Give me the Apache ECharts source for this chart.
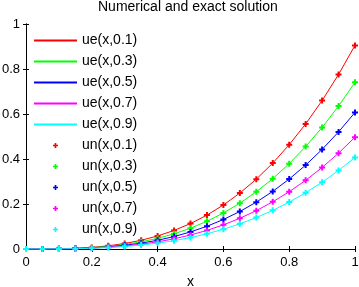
<!DOCTYPE html>
<html><head><meta charset="utf-8">
<script src="https://cdn.jsdelivr.net/npm/echarts@6/dist/echarts.min.js"></script>
<style>html,body{margin:0;padding:0;background:#fff}#c{width:359px;height:287px}</style>
</head><body><div id="c"></div>
<script>
var xs = [0,0.05,0.1,0.15,0.2,0.25,0.3,0.35,0.4,0.45,0.5,0.55,0.6,0.65,0.7,0.75,0.8,0.85,0.9,0.95,1];
var u01 = [0,0.0001,0.0009,0.0031,0.0072,0.0141,0.0244,0.0388,0.0579,0.0825,0.1131,0.1506,0.1955,0.2485,0.3104,0.3818,0.4634,0.5558,0.6597,0.7759,0.905];
var u03 = [0,0.0001,0.0007,0.0025,0.0059,0.0116,0.0200,0.0318,0.0474,0.0675,0.0926,0.1233,0.1601,0.2035,0.2542,0.3126,0.3794,0.4551,0.5402,0.6353,0.741];
var u05 = [0,0.0001,0.0006,0.0020,0.0049,0.0095,0.0164,0.0260,0.0388,0.0553,0.0759,0.1010,0.1311,0.1667,0.2082,0.2561,0.3108,0.3728,0.4425,0.5204,0.607];
var u07 = [0,0.0001,0.0005,0.0017,0.0040,0.0078,0.0134,0.0213,0.0318,0.0453,0.0621,0.0827,0.1074,0.1365,0.1705,0.2097,0.2545,0.3052,0.3623,0.4261,0.497];
var u09 = [0,0.0001,0.0004,0.0014,0.0033,0.0064,0.0110,0.0175,0.0260,0.0371,0.0509,0.0677,0.0879,0.1118,0.1396,0.1717,0.2084,0.2499,0.2967,0.3489,0.407];
var tValues = ['0.1','0.3','0.5','0.7','0.9'];
var colors = ['#ff0000','#00ff00','#0000ff','#ff00ff','#00ffff'];
var titleText = 'Numerical and exact solution';
var xName = 'x';

var all = [u01,u03,u05,u07,u09];
function pairs(ys){ return xs.map(function(x,i){ return [x, ys[i]]; }); }
var marker = 'path://M2,0H4V2H6V4H4V6H2V4H0V2H2Z';
var lineIcon = 'path://M0,0H86V4H0Z';
var series = [];
var legendData = [];
all.forEach(function(ys,k){
  series.push({name:'ue(x,'+tValues[k]+')', type:'line', data:pairs(ys), symbol:'none',
    lineStyle:{color:colors[k], width:1}, itemStyle:{color:colors[k]}, z:2});
  legendData.push({name:'ue(x,'+tValues[k]+')', icon:lineIcon});
});
all.forEach(function(ys,k){
  series.push({name:'un(x,'+tValues[k]+')', type:'line', data:pairs(ys), symbol:marker, symbolSize:6, showSymbol:true,
    lineStyle:{color:colors[k], width:0, opacity:0}, itemStyle:{color:colors[k]}, z:3});
  legendData.push({name:'un(x,'+tValues[k]+')', icon:marker});
});

var axisCommon = {min:0, max:1, interval:0.2, splitLine:{show:false},
  axisLine:{show:true, lineStyle:{color:'#000', width:1}},
  axisTick:{show:true, inside:true, length:3, lineStyle:{color:'#000'}}};
var chart = echarts.init(document.getElementById('c'), null, {renderer:'canvas'});
chart.setOption({
  animation:false,
  backgroundColor:'#fff',
  title:{text:titleText, left:98, top:0, padding:0,
    textStyle:{fontFamily:'Liberation Sans', fontSize:14, fontWeight:'normal', color:'#000'}},
  grid:{left:26, right:4, top:24, bottom:38, containLabel:false, outerBoundsMode:'none'},
  legend:{data:legendData, orient:'vertical', left:34, top:33.5, padding:0, itemGap:7,
    itemWidth:43, itemHeight:5,
    textStyle:{fontFamily:'Liberation Sans', fontSize:14, color:'#000'}},
  xAxis:[
    Object.assign({type:'value', position:'bottom', name:xName, nameLocation:'middle', nameGap:26,
      nameTextStyle:{fontFamily:'Liberation Sans', fontSize:14, color:'#000'},
      axisLabel:{fontFamily:'Liberation Sans', fontSize:13, color:'#000', margin:7}}, axisCommon),
    Object.assign({type:'value', position:'top', axisLabel:{show:false}}, axisCommon)
  ],
  yAxis:[
    Object.assign({type:'value', position:'left',
      axisLabel:{fontFamily:'Liberation Sans', fontSize:13, color:'#000', margin:6}}, axisCommon),
    Object.assign({type:'value', position:'right', axisLabel:{show:false}}, axisCommon)
  ],
  series:series
});
</script></body></html>
